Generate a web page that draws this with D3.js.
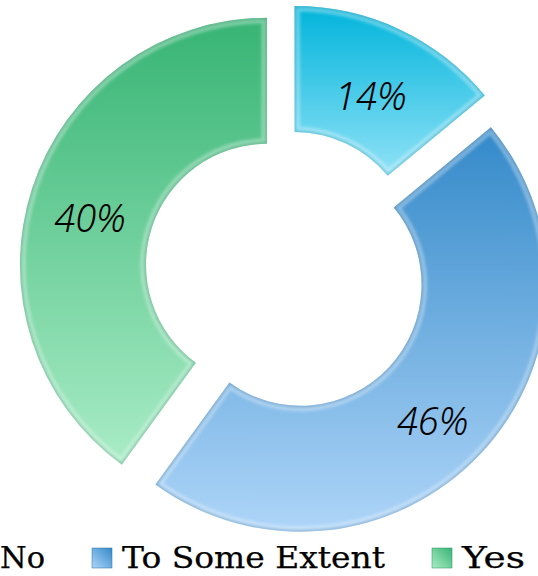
<!DOCTYPE html>
<html>
<head>
<meta charset="utf-8">
<script src="https://cdn.jsdelivr.net/npm/d3@7"></script>
<style>
  html, body { margin: 0; padding: 0; background: #fff; }
  #chart { width: 538px; height: 576px; overflow: hidden; }
</style>
</head>
<body>
<div id="chart"></div>
<script>
// Donut chart data (Excel style, exploded slices)
const categories = ["No", "To Some Extent", "Yes"];
const values = [14, 46, 40];
const labels = ["14%", "46%", "40%"];

const COLORS = [
  { top: "#00b4db", bottom: "#90e2f7", edge: "#0a8fb0" },
  { top: "#3389c9", bottom: "#aed5f8", edge: "#2a6fa6" },
  { top: "#37b474", bottom: "#a9ecc6", edge: "#2a9060" }
];

const W = 538, H = 576;
const cx = 286, cy = 271;
const outerR = 247, innerR = 121, explode = 20;

const svg = d3.select("#chart").append("svg")
  .attr("width", W).attr("height", H)
  .attr("viewBox", `0 0 ${W} ${H}`);

const defs = svg.append("defs");

const pie = d3.pie().sort(null).value(d => d)(values);
const arc = d3.arc().innerRadius(innerR).outerRadius(outerR);

pie.forEach((p, i) => {
  const g = defs.append("linearGradient").attr("id", `grad${i}`)
    .attr("x1", 0).attr("y1", 0).attr("x2", 0).attr("y2", 1);
  g.append("stop").attr("offset", "0%").attr("stop-color", COLORS[i].top);
  g.append("stop").attr("offset", "100%").attr("stop-color", COLORS[i].bottom);
  defs.append("clipPath").attr("id", `clip${i}`)
    .append("path").attr("d", arc(p));
});

// legend swatch gradients
COLORS.forEach((c, i) => {
  const g = defs.append("linearGradient").attr("id", `lg${i}`)
    .attr("x1", 0).attr("y1", 1).attr("x2", 1).attr("y2", 0);
  g.append("stop").attr("offset", "0%").attr("stop-color", c.bottom);
  g.append("stop").attr("offset", "100%").attr("stop-color", c.top);
});

// soft blur for the bevel rim
const blur = defs.append("filter").attr("id", "soft")
  .attr("x", "-5%").attr("y", "-5%").attr("width", "110%").attr("height", "110%");
blur.append("feGaussianBlur").attr("stdDeviation", 1.6);

const slices = svg.append("g").selectAll("g.slice").data(pie).enter().append("g")
  .attr("class", "slice")
  .attr("transform", d => {
    const mid = (d.startAngle + d.endAngle) / 2;
    return `translate(${cx + Math.sin(mid) * explode},${cy - Math.cos(mid) * explode})`;
  });

slices.append("path").attr("d", arc).attr("fill", (d, i) => `url(#grad${i})`);

// bevel: light inner rim and darker soft edge
slices.append("g").attr("clip-path", (d, i) => `url(#clip${i})`)
  .append("path").attr("d", arc)
  .attr("filter", "url(#soft)")
  .attr("fill", "none").attr("stroke", "#ffffff").attr("stroke-opacity", 0.35)
  .attr("stroke-width", 11);
slices.append("g").attr("clip-path", (d, i) => `url(#clip${i})`)
  .append("path").attr("d", arc)
  .attr("filter", "url(#soft)")
  .attr("fill", "none").attr("stroke", (d, i) => COLORS[i].edge).attr("stroke-opacity", 0.45)
  .attr("stroke-width", 3);

// data labels
const labelArc = d3.arc().innerRadius((innerR + outerR) / 2).outerRadius((innerR + outerR) / 2);
slices.append("text")
  .attr("transform", d => {
    const [lx, ly] = labelArc.centroid(d);
    return `translate(${lx - 2},${ly + 8})`;
  })
  .attr("dy", "0.42em")
  .attr("text-anchor", "middle")
  .style("font-family", "'Noto Sans', sans-serif")
  .style("font-style", "italic")
  .style("font-weight", 300)
  .style("font-size", "38px")
  .style("fill", "#000")
  .text((d, i) => labels[i]);

// legend
const legend = svg.append("g").attr("transform", "translate(0,568)");
const textWidths = [45, 263, 63];
let x = -30;
categories.forEach((c, i) => {
  legend.append("rect").attr("x", x).attr("y", -20).attr("width", 20).attr("height", 20)
    .attr("fill", `url(#lg${i})`).attr("stroke", COLORS[i].edge).attr("stroke-width", 0.5);
  legend.append("text").attr("x", x + 30).attr("y", 0)
    .style("font-family", "'DejaVu Serif', serif")
    .style("font-size", "29px")
    .style("stroke", "#000").style("stroke-width", 0.25)
    .attr("textLength", textWidths[i]).attr("lengthAdjust", "spacingAndGlyphs")
    .style("fill", "#000")
    .text(c);
  x += 30 + textWidths[i] + 47;
});
</script>
</body>
</html>
